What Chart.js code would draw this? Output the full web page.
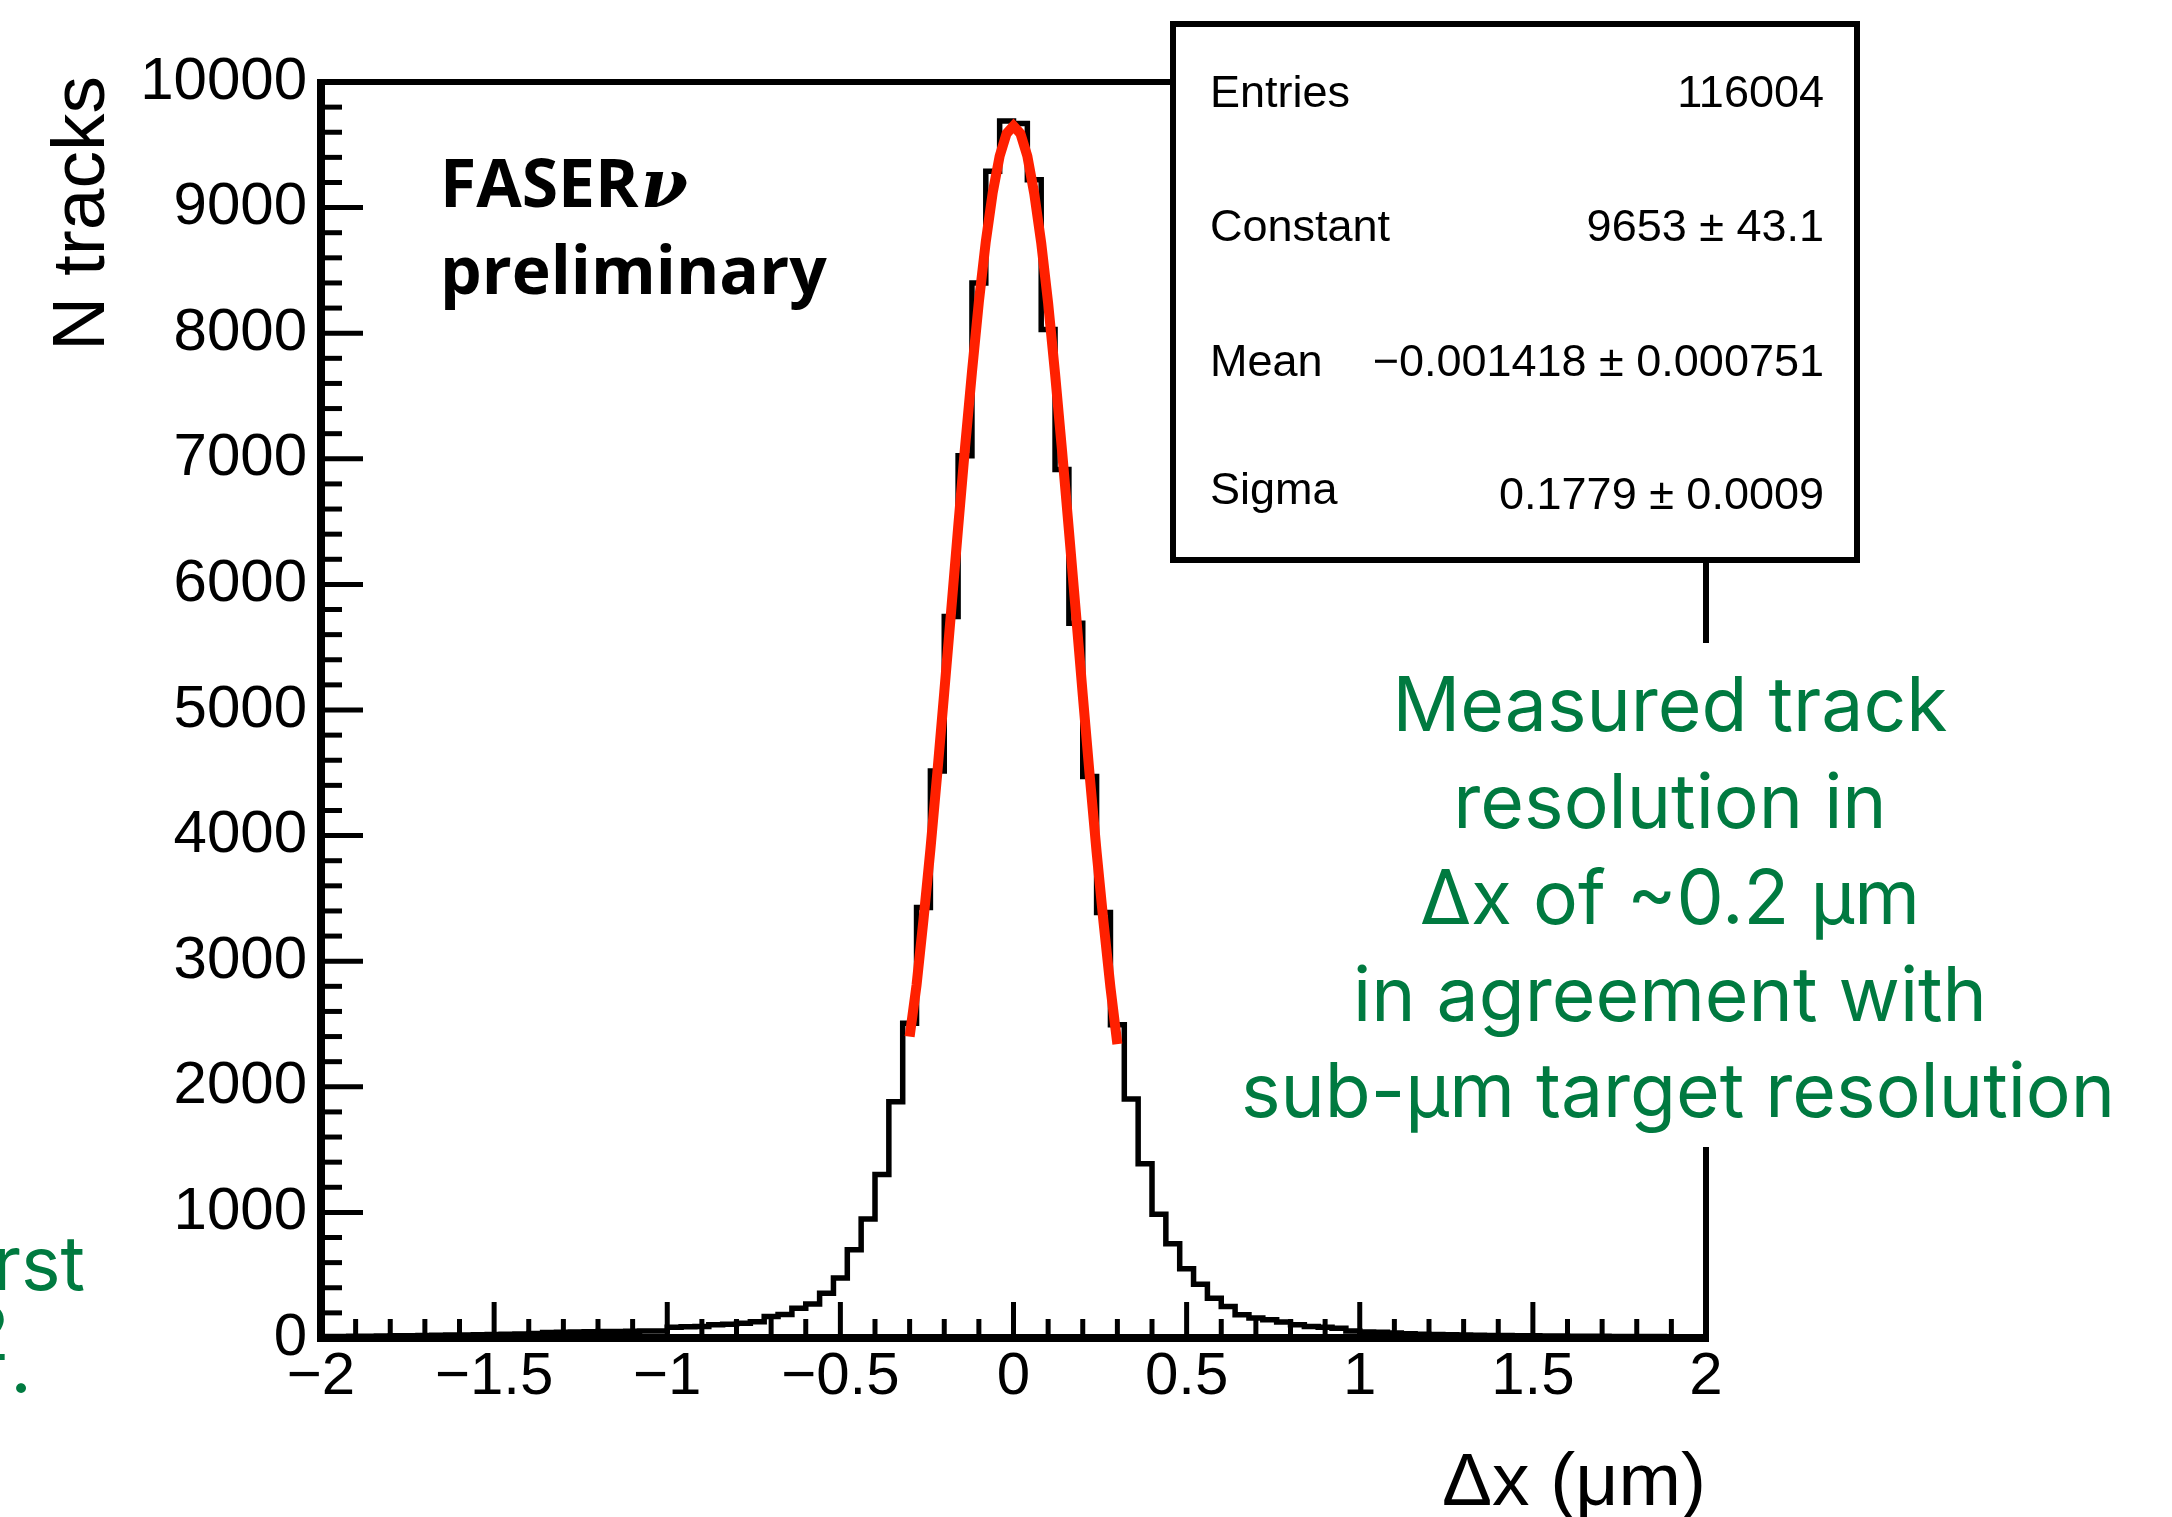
<!DOCTYPE html>
<html>
<head>
<meta charset="utf-8">
<script src="https://cdn.jsdelivr.net/npm/chart.js@4.4.1/dist/chart.umd.min.js"></script>
<style>
  html, body { margin: 0; padding: 0; background: #fff; }
  #wrap { width: 2172px; height: 1517px; position: relative; overflow: hidden; }
</style>
</head>
<body>
<div id="wrap"><canvas id="plot" width="2172" height="1517"></canvas></div>
<script>
// ------------------- Data -------------------
const binLow = -2.0;
const binWidth = 0.04;
// counts per bin (100 bins from -2 to 2)
const counts = [
  12, 12, 14, 14, 16, 17, 18, 20, 21, 23,
  24, 26, 28, 30, 32, 35, 44, 46, 48, 50,
  51, 52, 54, 55, 56, 86, 89, 92, 106, 110,
  118, 130, 172, 188, 236, 271, 356, 478, 702, 948,
  1302, 1880, 2505, 3428, 4515, 5745, 7025, 8400, 9290, 9690,
  9670, 9222, 8030, 6915, 5690, 4470, 3388, 2495, 1903, 1388,
  985, 750, 552, 428, 316, 250, 185, 160, 145, 128,
  105, 92, 86, 78, 56, 48, 46, 40, 34, 30,
  27, 25, 23, 22, 20, 19, 18, 17, 16, 15,
  14, 14, 13, 12, 12, 11, 11, 10, 10, 9
];
// gaussian fit curve as drawn (red)
const fitX = [-0.30, -0.28, -0.26, -0.24, -0.22, -0.20, -0.18, -0.16, -0.14, -0.12, -0.10,
              -0.08, -0.06, -0.04, -0.02, 0.00, 0.02, 0.04, 0.06, 0.08, 0.10,
              0.12, 0.14, 0.16, 0.18, 0.20, 0.22, 0.24, 0.26, 0.28, 0.30];
const fitY = [2400, 2810, 3330, 3890, 4500, 5140, 5790, 6450, 7090, 7690, 8250,
              8730, 9120, 9410, 9590, 9650, 9590, 9410, 9110, 8720, 8240,
              7680, 7070, 6430, 5780, 5120, 4480, 3870, 3310, 2790, 2340];

const xMajorTicks = [-2, -1.5, -1, -0.5, 0, 0.5, 1, 1.5, 2];
const yMajorTicks = [0, 1000, 2000, 3000, 4000, 5000, 6000, 7000, 8000, 9000, 10000];

const statNames = ["Entries", "Constant", "Mean", "Sigma"];
const statValues = ["116004", "9653 \u00b1 43.1", "\u22120.001418 \u00b1 0.000751", "0.1779 \u00b1 0.0009"];

const noteLines = ["Measured track", "resolution in", "\u0394x of ~0.2 \u03bcm", "in agreement with", "sub-\u03bcm target resolution"];

// ------------------- Helpers -------------------
const SANS = "'Liberation Sans', Arial, sans-serif";
const GREEN = "#007a40";

function fmt(v) {
  return v < 0 ? "\u2212" + Math.abs(v) : String(v);
}

const histPoints = counts.map((c, i) => ({ x: binLow + i * binWidth, y: c }));
histPoints.push({ x: binLow + counts.length * binWidth, y: counts[counts.length - 1] });
const fitPoints = fitX.map((x, i) => ({ x: x, y: fitY[i] }));

// ------------------- ROOT style frame + annotations -------------------
const rootFrame = {
  id: "rootFrame",
  afterDraw(chart) {
    const { ctx, chartArea: a } = chart;
    const xs = chart.scales.x, ys = chart.scales.y;
    ctx.save();
    ctx.strokeStyle = "#000";
    ctx.lineCap = "butt";

    // ticks (inside)
    ctx.lineWidth = 5;
    for (let k = 0; k <= 40; k++) {
      const px = xs.getPixelForValue(-2 + k * 0.1);
      const len = k % 5 === 0 ? 36 : 19;
      ctx.beginPath();
      ctx.moveTo(px, a.bottom);
      ctx.lineTo(px, a.bottom - len);
      ctx.stroke();
    }
    for (let k = 0; k <= 50; k++) {
      const py = ys.getPixelForValue(k * 200);
      const len = k % 5 === 0 ? 42 : 21;
      ctx.beginPath();
      ctx.moveTo(a.left, py);
      ctx.lineTo(a.left + len, py);
      ctx.stroke();
    }

    // frame
    ctx.lineWidth = 6;
    ctx.beginPath();
    ctx.moveTo(a.left, a.top);
    ctx.lineTo(a.right, a.top);
    ctx.lineTo(a.right, a.bottom);
    ctx.stroke();
    ctx.lineWidth = 8;
    ctx.beginPath();
    ctx.moveTo(a.left, a.top - 3);
    ctx.lineTo(a.left, a.bottom);
    ctx.lineTo(a.right + 3, a.bottom);
    ctx.stroke();

    // stats box
    ctx.fillStyle = "#fff";
    ctx.fillRect(1173, 24, 684, 536);
    ctx.lineWidth = 6;
    ctx.strokeRect(1173, 24, 684, 536);
    ctx.fillStyle = "#000";
    ctx.font = "45px " + SANS;
    const rowBase = [107, 241, 376, 509];
    statNames.forEach((n, i) => {
      ctx.textAlign = "left";
      ctx.fillText(n, 1210, rowBase[i] - (i === 3 ? 5 : 0));
      ctx.textAlign = "right";
      ctx.fillText(statValues[i], 1824, rowBase[i]);
    });

    // note with white backing (cuts the right axis)
    ctx.fillStyle = "#fff";
    ctx.fillRect(1230, 643, 900, 504);
    ctx.fillStyle = GREEN;
    ctx.font = "75px Inter, " + SANS;
    ctx.textAlign = "center";
    const noteBase = [731, 828, 924, 1021, 1117];
    noteLines.forEach((t, i) => ctx.fillText(t, i === 4 ? 1678 : 1670, noteBase[i]));

    // cut-off text at the left edge
    ctx.textAlign = "right";
    ctx.fillText("first", 85, 1290);
    ctx.fillText("2", 10, 1360);
    ctx.textAlign = "center";
    ctx.fillText(".", 21, 1393);

    // axis titles
    ctx.fillStyle = "#000";
    ctx.font = "75px " + SANS;
    ctx.textAlign = "right";
    ctx.fillText("\u0394x (\u03bcm)", 1706, 1505);
    ctx.save();
    ctx.translate(104, 76);
    ctx.rotate(-Math.PI / 2);
    ctx.textAlign = "right";
    ctx.fillText("N tracks", 0, 0);
    ctx.restore();

    // FASERnu preliminary
    ctx.textAlign = "left";
    ctx.font = "bold 66px 'Open Sans', 'Noto Sans', sans-serif";
    ctx.fillText("FASER", 440, 207);
    const w = ctx.measureText("FASER").width;
    ctx.font = "italic bold 68px 'DejaVu Serif', serif";
    ctx.fillText("\u03bd", 440 + w + 2, 207);
    ctx.font = "bold 66px 'Open Sans', 'Noto Sans', sans-serif";
    ctx.fillText("preliminary", 440, 294);

    ctx.restore();
  }
};

// ------------------- Chart -------------------
new Chart(document.getElementById("plot"), {
  type: "scatter",
  data: {
    datasets: [
      {
        type: "line",
        data: histPoints,
        stepped: true,
        borderColor: "#000",
        borderWidth: 5.5,
        borderJoinStyle: "miter",
        pointRadius: 0,
        fill: false,
        order: 2
      },
      {
        type: "line",
        data: fitPoints,
        borderColor: "#ff2000",
        borderWidth: 10,
        pointRadius: 0,
        fill: false,
        tension: 0,
        order: 1
      }
    ]
  },
  options: {
    responsive: false,
    animation: false,
    devicePixelRatio: 1,
    layout: { padding: { left: 0, top: 82, right: 466, bottom: 0 } },
    plugins: { legend: { display: false }, tooltip: { enabled: false } },
    scales: {
      x: {
        type: "linear",
        min: -2,
        max: 2,
        grid: { display: false, tickLength: 0 },
        border: { display: false },
        afterBuildTicks: s => { s.ticks = xMajorTicks.map(v => ({ value: v })); },
        afterFit: s => { s.height = 179; },
        ticks: {
          padding: 3,
          autoSkip: false,
          maxRotation: 0,
          color: "#000",
          font: { family: SANS, size: 60 },
          callback: v => fmt(v)
        }
      },
      y: {
        type: "linear",
        min: 0,
        max: 10000,
        grid: { display: false, tickLength: 0 },
        border: { display: false },
        afterBuildTicks: s => { s.ticks = yMajorTicks.map(v => ({ value: v })); },
        afterFit: s => { s.width = 321; },
        ticks: {
          padding: 14,
          color: "#000",
          font: { family: SANS, size: 60 },
          callback: v => fmt(v)
        }
      }
    }
  },
  plugins: [rootFrame]
});
</script>
</body>
</html>
